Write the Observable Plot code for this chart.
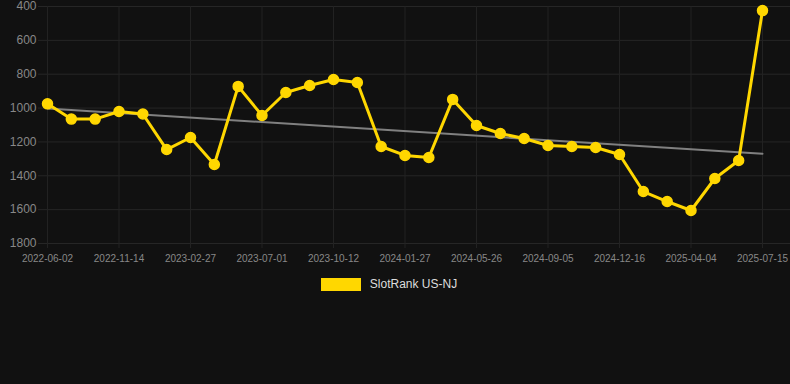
<!DOCTYPE html>
<html>
<head>
<meta charset="utf-8">
<script src="https://cdn.jsdelivr.net/npm/d3@7"></script>
<script src="https://cdn.jsdelivr.net/npm/@observablehq/plot@0.6"></script>
<style>
  html, body { margin: 0; padding: 0; background: #111111; }
  body { width: 790px; height: 384px; overflow: hidden; font-family: "Liberation Sans", Arial, sans-serif; }
  #legend { display: flex; align-items: center; justify-content: center; gap: 9px; margin-top: 7px; margin-left: -12px; color: #dddddd; font-size: 12px; }
  #legend .sw { width: 40px; height: 13px; background: #FFD700; }
</style>
</head>
<body>
<div id="chart"></div>
<div id="legend"><span class="sw"></span><span>SlotRank US-NJ</span></div>
<script>
const dates = [
  "2022-06-02","2022-07-26","2022-09-19","2022-11-14","2022-12-18","2023-01-22",
  "2023-02-27","2023-04-10","2023-05-21","2023-07-01","2023-08-04","2023-09-07",
  "2023-10-12","2023-11-16","2023-12-21","2024-01-27","2024-03-06","2024-04-15",
  "2024-05-26","2024-06-29","2024-08-02","2024-09-05","2024-10-10","2024-11-12",
  "2024-12-16","2025-01-22","2025-02-27","2025-04-04","2025-05-10","2025-06-12",
  "2025-07-15"
];
const ranks = [
  975, 1065, 1065, 1020, 1035, 1245, 1174, 1333, 872, 1044, 908,
  867, 831, 849, 1227, 1280, 1292, 949, 1103, 1150, 1180, 1221,
  1227, 1233, 1274, 1493, 1552, 1605, 1416, 1310, 424
];
const tickDates = ["2022-06-02","2022-11-14","2023-02-27","2023-07-01","2023-10-12","2024-01-27","2024-05-26","2024-09-05","2024-12-16","2025-04-04","2025-07-15"];
const yTicks = [400, 600, 800, 1000, 1200, 1400, 1600, 1800];
const seriesName = "SlotRank US-NJ";

const data = dates.map((d, i) => ({date: d, idx: i, rank: ranks[i]}));
const tickIdx = tickDates.map(d => dates.indexOf(d));

const chart = Plot.plot({
  width: 790,
  height: 270,
  marginLeft: 38,
  marginRight: 0,
  marginTop: 6,
  marginBottom: 27,
  style: {background: "#111111", color: "#888888", fontFamily: "Liberation Sans, Arial, sans-serif"},
  x: {type: "linear", domain: [0, dates.length - 1], insetLeft: 9, insetRight: 28, label: null},
  y: {domain: [400, 1800], reverse: true, label: null},
  marks: [
    Plot.ruleY(yTicks, {stroke: "#262626", strokeWidth: 1}),
    Plot.ruleX(tickIdx, {stroke: "#222222", strokeWidth: 1, y1: 400, y2: 1800, insetBottom: -5}),
    Plot.axisY(yTicks, {tickSize: 0, tickPadding: 2, fontSize: 12, fill: "#888888", tickFormat: d => String(d), label: null}),
    Plot.axisX(tickIdx, {tickSize: 0, tickPadding: 11, fontSize: 10, fill: "#888888", fontStretch: "condensed", tickFormat: i => dates[i], label: null}),
    Plot.linearRegressionY(data, {x: "idx", y: "rank", stroke: "#808080", strokeWidth: 2, ci: 0}),
    Plot.line(data, {x: "idx", y: "rank", stroke: "#FFD700", strokeWidth: 3, curve: "linear"}),
    Plot.dot(data, {x: "idx", y: "rank", r: 5, fill: "#FFD700", stroke: "#FFD700"})
  ]
});
document.getElementById("chart").appendChild(chart);
</script>
</body>
</html>
